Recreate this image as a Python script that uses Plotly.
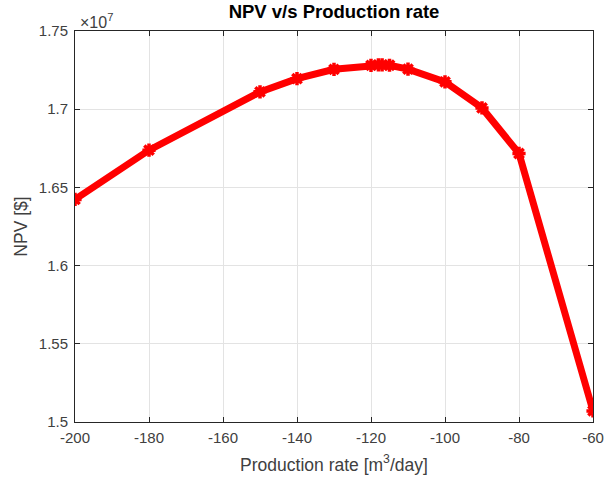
import plotly.graph_objects as go

# Production rate [m^3/day] and the resulting net present value [$]
production_rate = [-200, -180, -150, -140, -130, -120, -118, -117, -115,
                   -110, -100, -90, -80, -60]
npv_dollars = [16423000, 16738000, 17111000, 17195000, 17255000, 17280000,
               17283000, 17283000, 17281000, 17256000, 17175000, 17008000,
               16717000, 15071000]

x_ticks = [-200, -180, -160, -140, -120, -100, -80, -60]
x_tick_labels = ["-200", "-180", "-160", "-140", "-120", "-100", "-80", "-60"]
y_ticks = [1.5, 1.55, 1.6, 1.65, 1.7, 1.75]
y_tick_labels = ["1.5", "1.55", "1.6", "1.65", "1.7", "1.75"]

SCALE = 1e7
npv_scaled = [v / SCALE for v in npv_dollars]

FONT = "Liberation Sans, Arial, Helvetica, sans-serif"
AXIS_COLOR = "#262626"
TEXT_COLOR = "#404040"
GRID_COLOR = "#e3e3e3"

fig = go.Figure()
fig.add_trace(go.Scatter(
    x=production_rate,
    y=npv_scaled,
    mode="lines+markers",
    line=dict(color="#ff0000", width=7),
    marker=dict(symbol="asterisk-open", size=11, color="#ff0000",
                line=dict(color="#ff0000", width=3.5)),
    showlegend=False,
    hoverinfo="x+y",
))

axis_common = dict(
    showline=True,
    linecolor=AXIS_COLOR,
    linewidth=1,
    mirror="ticks",
    ticks="inside",
    ticklen=5,
    tickwidth=1,
    tickcolor=AXIS_COLOR,
    showgrid=True,
    gridcolor=GRID_COLOR,
    gridwidth=1,
    zeroline=False,
    automargin=False,
    tickfont=dict(family=FONT, size=15, color=TEXT_COLOR),
)

fig.update_xaxes(
    range=[-200, -60],
    tickmode="array",
    tickvals=x_ticks,
    ticktext=x_tick_labels,
    ticklabelstandoff=2,
    title=dict(text="Production rate [m<sup>3</sup>/day]",
               font=dict(family=FONT, size=17.5, color=TEXT_COLOR),
               standoff=13),
    **axis_common,
)
fig.update_yaxes(
    range=[1.5, 1.75],
    tickmode="array",
    tickvals=y_ticks,
    ticktext=y_tick_labels,
    ticklabelstandoff=3,
    title=dict(text="NPV [$]",
               font=dict(family=FONT, size=17.5, color=TEXT_COLOR),
               standoff=6),
    **axis_common,
)

fig.update_layout(
    width=611,
    height=477,
    margin=dict(l=75, r=18, t=31, b=55),
    paper_bgcolor="white",
    plot_bgcolor="white",
    title=dict(
        text="<b>NPV v/s Production rate</b>",
        font=dict(family=FONT, size=18.5, color="#000000"),
        x=0.5, xref="paper", xanchor="center",
        y=1 - 12 / 477, yref="container", yanchor="middle",
    ),
    annotations=[dict(
        text="\u00d710<sup>7</sup>",
        xref="paper", yref="paper", x=0, y=1,
        xanchor="left", yanchor="bottom",
        showarrow=False,
        font=dict(family=FONT, size=16, color=TEXT_COLOR),
        xshift=3, yshift=-2,
    )],
)

fig.write_html("out.html")
